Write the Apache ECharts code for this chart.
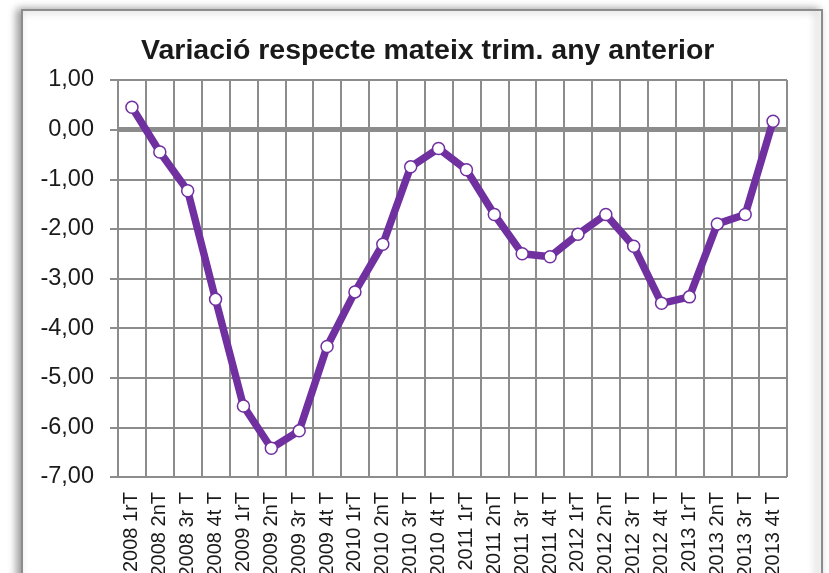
<!DOCTYPE html>
<html>
<head>
<meta charset="utf-8">
<script src="https://cdn.jsdelivr.net/npm/echarts@6/dist/echarts.min.js"></script>
<style>
html,body{margin:0;padding:0;background:#fff;}
#chart{width:829px;height:573px;}
</style>
</head>
<body>
<div id="chart"></div>
<script>
const titleText = 'Variació respecte mateix trim. any anterior';
const categories = ['2008 1rT','2008 2nT','2008 3r T','2008 4t T','2009 1rT','2009 2nT','2009 3r T','2009 4t T','2010 1rT','2010 2nT','2010 3r T','2010 4t T','2011 1rT','2011 2nT','2011 3r T','2011 4t T','2012 1rT','2012 2nT','2012 3r T','2012 4t T','2013 1rT','2013 2nT','2013 3r T','2013 4t T'];
const values = [0.45,-0.45,-1.23,-3.42,-5.57,-6.42,-6.07,-4.37,-3.27,-2.31,-0.75,-0.38,-0.81,-1.71,-2.50,-2.56,-2.11,-1.71,-2.35,-3.50,-3.37,-1.90,-1.71,0.17];

const chart = echarts.init(document.getElementById('chart'));
const grey = '#8c8c8c';
chart.setOption({
  animation: false,
  backgroundColor: '#fff',
  graphic: [{
    type: 'rect', z: -10,
    shape: {x: 22, y: 10, width: 800, height: 620},
    style: {fill: '#fff', stroke: grey, lineWidth: 2, shadowColor: 'rgba(0,0,0,0.4)', shadowBlur: 8, shadowOffsetX: -4, shadowOffsetY: 0}
  }],
  title: {
    text: titleText, left: 141, top: 37, padding: 0,
    textStyle: {fontFamily: 'Liberation Sans', fontWeight: 'bold', fontSize: 28.5, color: '#1a1a1a'}
  },
  grid: {left: 118, right: 42, top: 80, bottom: 96, containLabel: false, outerBoundsMode: 'none'},
  xAxis: {
    type: 'category', data: categories, boundaryGap: true,
    axisLine: {show: true, lineStyle: {color: grey, width: 2}},
    axisTick: {show: false},
    axisLabel: {rotate: 90, interval: 0, margin: 15, fontFamily: 'Liberation Sans', fontSize: 20, color: '#1a1a1a'},
    splitLine: {show: true, interval: 0, lineStyle: {color: grey, width: 2}}
  },
  yAxis: {
    type: 'value', min: -7, max: 1, interval: 1,
    axisLine: {show: true, lineStyle: {color: grey, width: 2}},
    axisTick: {show: true, length: 8, lineStyle: {color: grey, width: 2}},
    axisLabel: {margin: 24, fontFamily: 'Liberation Sans', fontSize: 23.5, color: '#1a1a1a',
      formatter: v => v.toFixed(2).replace('.', ',')},
    splitLine: {show: true, lineStyle: {color: grey, width: 2}}
  },
  series: [
    {
      type: 'line', data: categories.map(() => null), z: 1, silent: true,
      markLine: {silent: true, symbol: 'none', label: {show: false},
        lineStyle: {color: grey, width: 5, type: 'solid'}, data: [{yAxis: 0}]}
    },
    {
      type: 'line', data: values, z: 5,
      lineStyle: {color: '#7030A0', width: 7.5},
      symbol: 'circle', symbolSize: 12,
      itemStyle: {color: '#ffffff', borderColor: '#7030A0', borderWidth: 1.5}
    }
  ]
});
</script>
</body>
</html>
